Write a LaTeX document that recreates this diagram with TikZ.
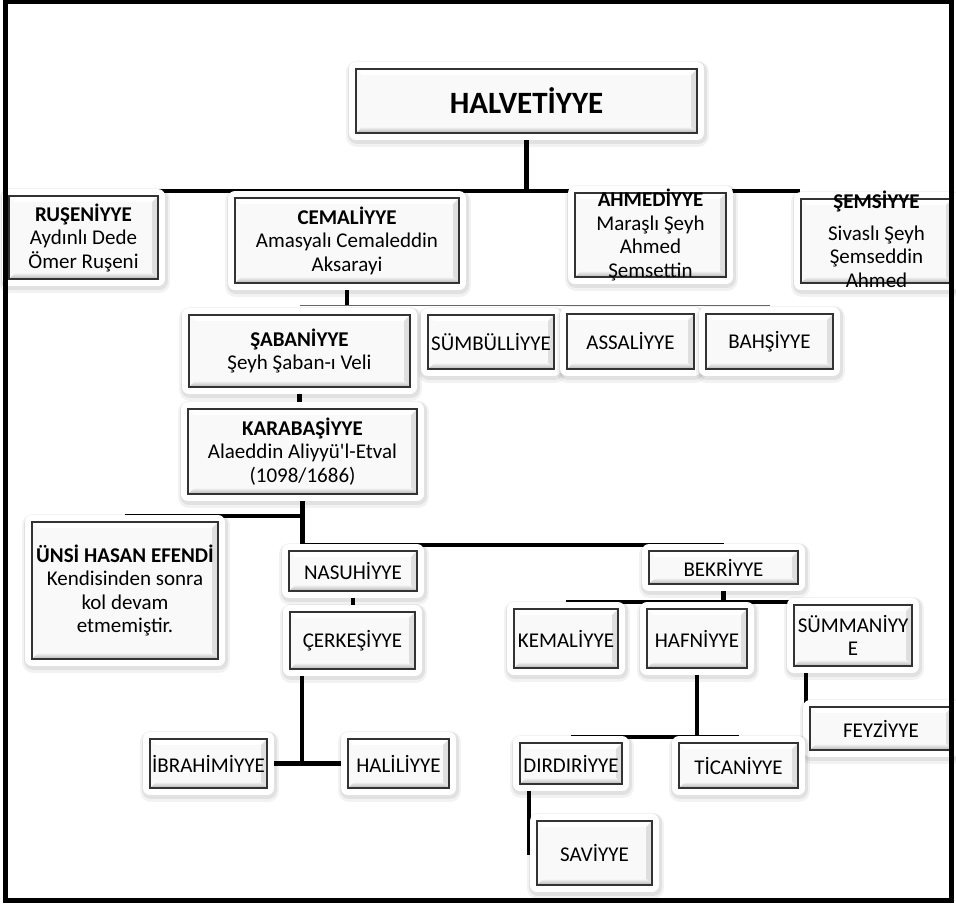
\documentclass[tikz,border=0pt]{standalone}
\usepackage{fontspec}
\setmainfont{Carlito}[Ligatures=TeXOff]
\pgfdeclarelayer{bg}
\pgfsetlayers{bg,main}
\newcommand{\uzunyazi}[1]{\raisebox{-7pt}[0pt][0pt]{\begin{tabular}{@{}c@{}}#1\end{tabular}}}

\begin{document}
\begin{tikzpicture}
  [x=1pt,y=-1pt,
   bevelN/.style={path picture={
     \fill[white] (path picture bounding box.north west) -- (path picture bounding box.north east)
       -- ([shift={(-6pt,-6pt)}]path picture bounding box.north east) -- ([shift={(6pt,-6pt)}]path picture bounding box.north west) -- cycle;
     \fill[gray!25] (path picture bounding box.north east) -- ([shift={(-6pt,-6pt)}]path picture bounding box.north east)
       -- ([shift={(-6pt,6pt)}]path picture bounding box.south east) -- (path picture bounding box.south east) -- cycle;
     \shade[top color=gray!8, bottom color=gray!60] (path picture bounding box.south west) -- ([shift={(6pt,6pt)}]path picture bounding box.south west)
       -- ([shift={(-6pt,6pt)}]path picture bounding box.south east) -- (path picture bounding box.south east) -- cycle;
   }},
   tarN/.style={rectangle, draw=black!80, line width=1.3pt, fill=gray!5, align=center, inner sep=0pt,
     font=\fontsize{21}{23.5}\selectfont, bevelN,
     preaction={draw=black, opacity=.05, line width=22pt, line join=round, transform canvas={shift={(1pt,-3pt)}}},
     preaction={draw=black, opacity=.07, line width=18pt, line join=round, transform canvas={shift={(1pt,-2pt)}}},
     preaction={draw=white, line width=14pt, line join=round}},
   conn/.style={line width=4.5pt},
   thinConn/.style={line width=1pt, black!60},
  ]
 \useasboundingbox (0,0) rectangle (956,904);

 % top level
 \node[tarN, minimum width=341pt, minimum height=64pt, font=\fontsize{31}{36}\selectfont\bfseries] (h) at (526.5,101) {HALVETİYYE};

 \node[tarN, minimum width=149pt, minimum height=83pt] (rus) at (83.5,237.5) {\textbf{RUŞENİYYE}\\Aydınlı Dede\\Ömer Ruşeni};
 \node[tarN, minimum width=224pt, minimum height=85pt] (cem) at (347,240.5) {\textbf{CEMALİYYE}\\Amasyalı Cemaleddin\\Aksarayi};
 \node[tarN, minimum width=151pt, minimum height=84pt] (ahm) at (650.5,235) {\uzunyazi{\textbf{AHMEDİYYE}\\Maraşlı Şeyh\\Ahmed\\Şemsettin}};
 \node[tarN, minimum width=151pt, minimum height=84pt] (sems) at (876.5,241) {\uzunyazi{\textbf{ŞEMSİYYE}\\[8pt]Sivaslı Şeyh\\Şemseddin\\Ahmed}};

 % cemaliyye branches
 \node[tarN, minimum width=221pt, minimum height=72pt] (sab) at (299.5,351) {\textbf{ŞABANİYYE}\\Şeyh Şaban-ı Veli};
 \node[tarN, minimum width=126pt, minimum height=54pt] (sumb) at (491,342) {SÜMBÜLLİYYE};
 \node[tarN, minimum width=127pt, minimum height=55pt] (ass) at (630.5,341.5) {ASSALİYYE};
 \node[tarN, minimum width=127pt, minimum height=55pt] (bah) at (769.5,341.5) {BAHŞİYYE};

 \node[tarN, minimum width=229pt, minimum height=85pt] (kar) at (302.5,451.5) {\textbf{KARABAŞİYYE}\\Alaeddin Aliyyü'l-Etval\\(1098/1686)};
 \node[tarN, minimum width=186pt, minimum height=137pt] (uns) at (125,590.5) {\textbf{ÜNSİ HASAN EFENDİ}\\Kendisinden sonra\\kol devam\\etmemiştir.};

 % nasuhiyye
 \node[tarN, minimum width=128pt, minimum height=40pt] (nas) at (353,571) {NASUHİYYE};
 \node[tarN, minimum width=125pt, minimum height=57pt] (cer) at (352.5,640.5) {ÇERKEŞİYYE};
 \node[tarN, minimum width=117pt, minimum height=49pt] (ibr) at (208.5,763.5) {İBRAHİMİYYE};
 \node[tarN, minimum width=101pt, minimum height=49pt] (hal) at (398.5,763.5) {HALİLİYYE};

 % bekriyye
 \node[tarN, minimum width=149pt, minimum height=33pt] (bek) at (723.5,567.5) {BEKRİYYE};
 \node[tarN, minimum width=104pt, minimum height=59pt] (kem) at (566,638.5) {KEMALİYYE};
 \node[tarN, minimum width=100pt, minimum height=59pt] (haf) at (697,638.5) {HAFNİYYE};
 \node[tarN, minimum width=118pt, minimum height=61pt] (sum) at (853,635.5) {SÜMMANİYY\\E};
 \node[tarN, minimum width=142pt, minimum height=43pt] (fey) at (881,728.5) {FEYZİYYE};
 \node[tarN, minimum width=102pt, minimum height=41pt] (dir) at (571,763.5) {DIRDIRİYYE};
 \node[tarN, minimum width=119pt, minimum height=45pt] (tic) at (738.5,765.5) {TİCANİYYE};
 \node[tarN, minimum width=115pt, minimum height=64pt] (sav) at (594.5,853) {SAVİYYE};

 \coordinate (j1) at (525,191);
 \coordinate (j2) at (347,305);
 \coordinate (j3) at (302,545);
 \coordinate (j4) at (302,516);
 \coordinate (j5) at (302,764);
 \coordinate (j6) at (723,602);
 \coordinate (j7) at (697,737);
 \coordinate (j8) at (806,712);
 \coordinate (j9) at (529,855);

 \begin{pgfonlayer}{bg}
  \draw[conn] (h) -- (h |- j1);
  \draw[conn] (rus.east |- j1) -- (sems.west |- j1);
  \draw[conn] (cem) -- (cem |- j2);
  \draw[thinConn] (sab |- j2) -- (bah |- j2);
  \draw[conn] (sab.south) -- (sab.south |- kar.north);
  \draw[conn] (kar) -- (kar |- j3);
  \draw[conn] (kar |- j4) -- (uns |- j4);
  \draw[conn] (kar |- j3) -- (bek |- j3);
  \draw[conn] (nas) -- (nas |- cer.north);
  \draw[conn] (cer.south -| j5) -- (j5);
  \draw[conn] (ibr) -- (hal);
  \draw[conn] (bek) -- (bek |- j6);
  \draw[conn] (kem |- j6) -- (sum |- j6);
  \draw[conn] (haf) -- (haf |- j7);
  \draw[conn] (dir |- j7) -- (tic |- j7);
  \draw[conn] (sum.south -| j8) -- (j8);
  \draw[conn] (dir.south -| j9) -- (j9);
 \end{pgfonlayer}

 % frame
 \draw[line width=5pt] (5.5,2) rectangle (951.5,900.5);
\end{tikzpicture}
\end{document}
